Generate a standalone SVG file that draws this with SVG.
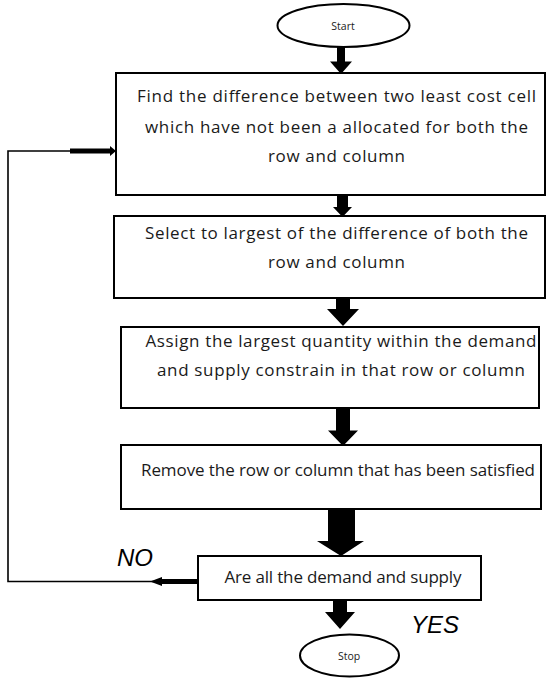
<svg xmlns="http://www.w3.org/2000/svg" width="555" height="679" viewBox="0 0 555 679">
<style>
.box{fill:#fff;stroke:#000;stroke-width:2}
.ell{fill:#fff;stroke:#000;stroke-width:2}
.t{font-family:"Open Sans","Liberation Sans",sans-serif;font-size:17px;fill:#1a1a1a;text-anchor:middle}
.s{font-family:"Open Sans","Liberation Sans",sans-serif;font-size:10.5px;fill:#1a1a1a;text-anchor:middle}
.lab{font-family:"Liberation Sans",Arial,sans-serif;font-style:italic;font-size:24px;fill:#000}
.arr{fill:#000}
.ln{fill:none;stroke:#000;stroke-width:1.6}
</style>
<rect width="555" height="679" fill="#fff"/>
<g id="connectors">
<polygon class="arr" points="337,47 345,47 345,61.5 352,61.5 341,74 330,61.5 337,61.5"/>
<polygon class="arr" points="337,195 348,195 348,207 352,207 342.5,217 333,207 337,207"/>
<polygon class="arr" points="336,298 350,298 350,309 359,309 343,326 327,309 336,309"/>
<polygon class="arr" points="336,408 350,408 350,430.5 358,430.5 343,446 328,430.5 336,430.5"/>
<polygon class="arr" points="328,509 355,509 355,541 364,541 341,556 317,541 328,541"/>
<polygon class="arr" points="333,600 347,600 347,612 355,612 340,629 325,612 333,612"/>
<polyline class="ln" points="198,581.5 8,581.5 8,151 116,151"/>
<polygon class="arr" points="198,579 162,579 162,577 150,581.5 162,586 162,584 198,584"/>
<polygon class="arr" points="70,148.5 110,148.5 110,146 116,151 110,156 110,153.5 70,153.5"/>
</g>
<g id="start">
<ellipse class="ell" cx="343.5" cy="25.5" rx="66" ry="21.5"/>
<text class="s" x="343" y="29.5">Start</text>
</g>
<g id="step1">
<rect class="box" x="116" y="73" width="429" height="122"/>
<text class="t" x="336.5" y="102" textLength="399" lengthAdjust="spacing">Find the difference between two least cost cell</text>
<text class="t" x="336.5" y="132.5" textLength="383" lengthAdjust="spacing">which have not been a allocated for both the</text>
<text class="t" x="336.5" y="161.5" textLength="137" lengthAdjust="spacing">row and column</text>
</g>
<g id="step2">
<rect class="box" x="114" y="216" width="431" height="82"/>
<text class="t" x="336.5" y="239" textLength="383" lengthAdjust="spacing">Select to largest of the difference of both the</text>
<text class="t" x="336.5" y="268" textLength="137" lengthAdjust="spacing">row and column</text>
</g>
<g id="step3">
<rect class="box" x="121" y="327" width="418" height="81"/>
<text class="t" x="341" y="347" textLength="391" lengthAdjust="spacing">Assign the largest quantity within the demand</text>
<text class="t" x="341" y="376" textLength="368" lengthAdjust="spacing">and supply constrain in that row or column</text>
</g>
<g id="step4">
<rect class="box" x="121" y="445" width="420" height="64"/>
<text class="t" x="338" y="476" textLength="394" lengthAdjust="spacing">Remove the row or column that has been satisfied</text>
</g>
<g id="decision">
<rect class="box" x="198" y="556" width="283" height="44"/>
<text class="t" x="343" y="583" textLength="237" lengthAdjust="spacing">Are all the demand and supply</text>
</g>
<g id="stop">
<ellipse class="ell" cx="349.5" cy="655.5" rx="49.5" ry="21"/>
<text class="s" x="349" y="659.5">Stop</text>
</g>
<text class="lab" x="117" y="566">NO</text>
<text class="lab" x="411" y="633">YES</text>
</svg>
